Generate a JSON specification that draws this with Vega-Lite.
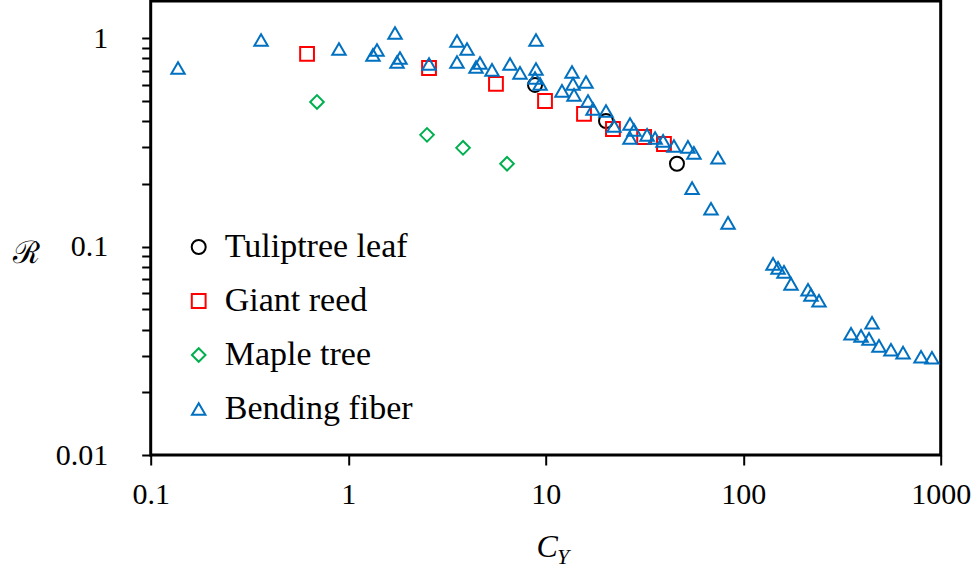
{
  "$schema": "https://vega.github.io/schema/vega-lite/v6.json",
  "width": 790,
  "height": 454,
  "autosize": {"type": "none"},
  "padding": {"left": 150.7, "top": 1, "right": 30.3, "bottom": 114},
  "background": "white",
  "config": {
    "view": {"stroke": "black", "strokeWidth": 3},
    "font": "Liberation Serif"
  },
  "datasets": {
    "pts": [
      {"series": "Tuliptree leaf", "CY": 8.83, "R": 0.597},
      {"series": "Tuliptree leaf", "CY": 20.2, "R": 0.401},
      {"series": "Tuliptree leaf", "CY": 46.2, "R": 0.25},
      {"series": "Giant reed", "CY": 0.619, "R": 0.841},
      {"series": "Giant reed", "CY": 2.566, "R": 0.72},
      {"series": "Giant reed", "CY": 5.6, "R": 0.604},
      {"series": "Giant reed", "CY": 9.92, "R": 0.5},
      {"series": "Giant reed", "CY": 15.63, "R": 0.434},
      {"series": "Giant reed", "CY": 21.9, "R": 0.367},
      {"series": "Giant reed", "CY": 31.5, "R": 0.336},
      {"series": "Giant reed", "CY": 39.7, "R": 0.311},
      {"series": "Maple tree", "CY": 0.695, "R": 0.495},
      {"series": "Maple tree", "CY": 2.506, "R": 0.344},
      {"series": "Maple tree", "CY": 3.814, "R": 0.298},
      {"series": "Maple tree", "CY": 6.37, "R": 0.25},
      {"series": "Bending fiber", "CY": 0.1375, "R": 0.72},
      {"series": "Bending fiber", "CY": 0.362, "R": 0.981},
      {"series": "Bending fiber", "CY": 0.898, "R": 0.889},
      {"series": "Bending fiber", "CY": 1.335, "R": 0.832},
      {"series": "Bending fiber", "CY": 1.399, "R": 0.879},
      {"series": "Bending fiber", "CY": 1.726, "R": 1.06},
      {"series": "Bending fiber", "CY": 1.767, "R": 0.77},
      {"series": "Bending fiber", "CY": 1.829, "R": 0.804},
      {"series": "Bending fiber", "CY": 2.566, "R": 0.753},
      {"series": "Bending fiber", "CY": 3.555, "R": 0.971},
      {"series": "Bending fiber", "CY": 3.555, "R": 0.77},
      {"series": "Bending fiber", "CY": 3.996, "R": 0.889},
      {"series": "Bending fiber", "CY": 4.437, "R": 0.728},
      {"series": "Bending fiber", "CY": 4.648, "R": 0.761},
      {"series": "Bending fiber", "CY": 5.347, "R": 0.705},
      {"series": "Bending fiber", "CY": 6.596, "R": 0.753},
      {"series": "Bending fiber", "CY": 7.41, "R": 0.682},
      {"series": "Bending fiber", "CY": 8.93, "R": 0.981},
      {"series": "Bending fiber", "CY": 8.93, "R": 0.712},
      {"series": "Bending fiber", "CY": 8.83, "R": 0.645},
      {"series": "Bending fiber", "CY": 9.36, "R": 0.604},
      {"series": "Bending fiber", "CY": 13.59, "R": 0.689},
      {"series": "Bending fiber", "CY": 12.09, "R": 0.559},
      {"series": "Bending fiber", "CY": 13.75, "R": 0.604},
      {"series": "Bending fiber", "CY": 16.0, "R": 0.617},
      {"series": "Bending fiber", "CY": 13.91, "R": 0.535},
      {"series": "Bending fiber", "CY": 16.38, "R": 0.5},
      {"series": "Bending fiber", "CY": 17.36, "R": 0.458},
      {"series": "Bending fiber", "CY": 20.2, "R": 0.448},
      {"series": "Bending fiber", "CY": 22.17, "R": 0.38},
      {"series": "Bending fiber", "CY": 26.72, "R": 0.388},
      {"series": "Bending fiber", "CY": 26.72, "R": 0.332},
      {"series": "Bending fiber", "CY": 28.0, "R": 0.363},
      {"series": "Bending fiber", "CY": 32.6, "R": 0.344},
      {"series": "Bending fiber", "CY": 35.8, "R": 0.332},
      {"series": "Bending fiber", "CY": 39.3, "R": 0.322},
      {"series": "Bending fiber", "CY": 44.6, "R": 0.304},
      {"series": "Bending fiber", "CY": 52.5, "R": 0.301},
      {"series": "Bending fiber", "CY": 56.3, "R": 0.282},
      {"series": "Bending fiber", "CY": 74.5, "R": 0.267},
      {"series": "Bending fiber", "CY": 55.1, "R": 0.191},
      {"series": "Bending fiber", "CY": 68.7, "R": 0.152},
      {"series": "Bending fiber", "CY": 83.8, "R": 0.13},
      {"series": "Bending fiber", "CY": 141.6, "R": 0.0827},
      {"series": "Bending fiber", "CY": 150.1, "R": 0.0791},
      {"series": "Bending fiber", "CY": 160.9, "R": 0.0757},
      {"series": "Bending fiber", "CY": 174.6, "R": 0.0663},
      {"series": "Bending fiber", "CY": 212.9, "R": 0.0621},
      {"series": "Bending fiber", "CY": 220.4, "R": 0.0587},
      {"series": "Bending fiber", "CY": 242, "R": 0.055},
      {"series": "Bending fiber", "CY": 449, "R": 0.0431},
      {"series": "Bending fiber", "CY": 351.5, "R": 0.0382},
      {"series": "Bending fiber", "CY": 395, "R": 0.0373},
      {"series": "Bending fiber", "CY": 433.5, "R": 0.0361},
      {"series": "Bending fiber", "CY": 487, "R": 0.0334},
      {"series": "Bending fiber", "CY": 560, "R": 0.032},
      {"series": "Bending fiber", "CY": 644.6, "R": 0.031},
      {"series": "Bending fiber", "CY": 795, "R": 0.0296},
      {"series": "Bending fiber", "CY": 903, "R": 0.0293}
    ],
    "sub": [{"t": "Y", "CY": 11.4, "R": 0.01}]
  },
  "layer": [
    {
      "data": {"name": "pts"},
      "mark": {"type": "point", "filled": false, "strokeWidth": 2, "opacity": 1},
      "encoding": {
        "x": {
          "field": "CY", "type": "quantitative",
          "scale": {"type": "log", "domain": [0.1, 1000], "nice": false},
          "axis": {
            "values": [0.1, 1, 10, 100, 1000], "format": "~g",
            "grid": false, "domain": false,
            "tickColor": "black", "tickWidth": 2, "tickSize": 10,
            "labelFont": "Liberation Serif", "labelFontSize": 30, "labelColor": "black",
            "labelPadding": 14, "labelFlush": false,
            "title": "C", "titleFont": "Liberation Serif", "titleFontSize": 32,
            "titleFontStyle": "italic", "titleFontWeight": "normal", "titleColor": "black",
            "titleX": 396, "titleY": 91, "titleAlign": "center", "titleBaseline": "middle"
          }
        },
        "y": {
          "field": "R", "type": "quantitative",
          "scale": {"type": "log", "domain": [0.01, 1.51], "nice": false},
          "axis": {
            "values": [0.01, 0.02, 0.03, 0.04, 0.05, 0.06, 0.07, 0.08, 0.09, 0.1, 0.2, 0.3, 0.4, 0.5, 0.6, 0.7, 0.8, 0.9, 1],
            "format": "~g",
            "labelExpr": "(datum.value == 0.01 || datum.value == 0.1 || datum.value == 1) ? datum.label : ''",
            "grid": false, "domain": false,
            "tickColor": "black", "tickWidth": 2, "tickSize": 9,
            "labelFont": "Liberation Serif", "labelFontSize": 30, "labelColor": "black",
            "labelPadding": 34, "labelFlush": false,
            "title": "ℛ", "titleFont": "DejaVu Serif", "titleFontSize": 31,
            "titleFontWeight": "normal", "titleColor": "black", "titleAngle": 0,
            "titleX": -125, "titleY": 252, "titleAlign": "center", "titleBaseline": "middle"
          }
        },
        "shape": {
          "field": "series", "type": "nominal",
          "scale": {
            "domain": ["Tuliptree leaf", "Giant reed", "Maple tree", "Bending fiber"],
            "range": ["circle", "square", "diamond", "triangle-up"]
          },
          "legend": {
            "orient": "none", "legendX": 31, "legendY": 229, "title": null, "padding": 0,
            "labelFont": "Liberation Serif", "labelFontSize": 34, "labelColor": "black", "labelLimit": 0,
            "symbolSize": 150, "symbolStrokeWidth": 2, "rowPadding": 20, "labelOffset": 9
          }
        },
        "color": {
          "field": "series", "type": "nominal",
          "scale": {
            "domain": ["Tuliptree leaf", "Giant reed", "Maple tree", "Bending fiber"],
            "range": ["#000000", "#ff0000", "#00b050", "#0070c0"]
          },
          "legend": {
            "orient": "none", "legendX": 31, "legendY": 229, "title": null, "padding": 0,
            "labelFont": "Liberation Serif", "labelFontSize": 34, "labelColor": "black", "labelLimit": 0,
            "symbolSize": 150, "symbolStrokeWidth": 2, "rowPadding": 20, "labelOffset": 9
          }
        },
        "size": {
          "field": "series", "type": "nominal",
          "scale": {
            "domain": ["Tuliptree leaf", "Giant reed", "Maple tree", "Bending fiber"],
            "range": [196, 180, 256, 230]
          },
          "legend": null
        }
      }
    },
    {
      "data": {"name": "sub"},
      "mark": {"type": "text", "font": "Liberation Serif", "fontSize": 22, "fontStyle": "italic", "color": "black", "dy": 102, "align": "left", "baseline": "middle"},
      "encoding": {
        "x": {"field": "CY", "type": "quantitative"},
        "y": {"field": "R", "type": "quantitative"},
        "text": {"field": "t"}
      }
    }
  ]
}
